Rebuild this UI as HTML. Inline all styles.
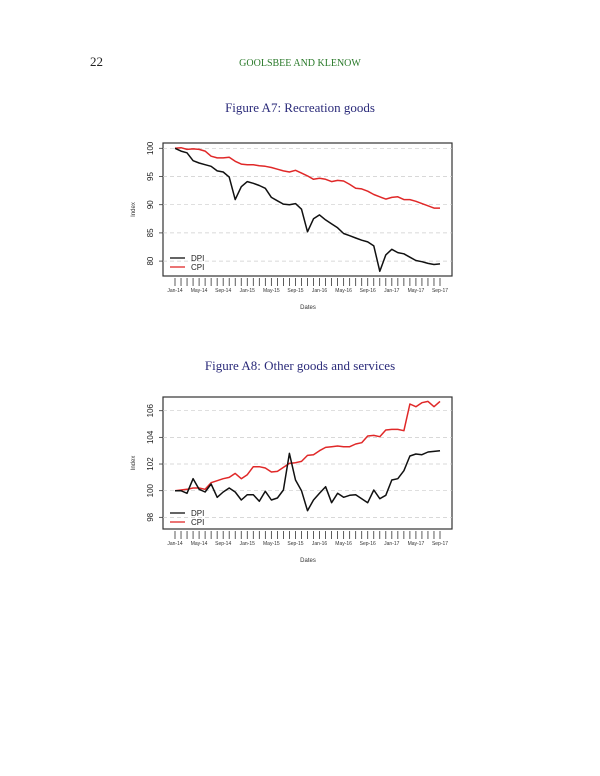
<!DOCTYPE html>
<html><head><meta charset="utf-8"><style>
html,body{margin:0;padding:0;background:#fff;width:600px;height:776px;overflow:hidden}
svg{display:block}
</style></head><body>
<svg id="s" width="600" height="776" xmlns="http://www.w3.org/2000/svg" font-family="Liberation Sans, sans-serif">
<text x="90" y="66" font-family="Liberation Serif, serif" font-size="13" fill="#222">22</text>
<text x="300" y="66" font-family="Liberation Serif, serif" font-size="10" fill="#2a7a2a" text-anchor="middle">GOOLSBEE AND KLENOW</text>
<text x="300" y="112" font-family="Liberation Serif, serif" font-size="13" fill="#2b2b7a" text-anchor="middle">Figure A7: Recreation goods</text>
<text x="300" y="370" font-family="Liberation Serif, serif" font-size="13" fill="#2b2b7a" text-anchor="middle">Figure A8: Other goods and services</text>
<g id="c1"></g><g id="c2"></g>
</svg>
<script>
var NS="http://www.w3.org/2000/svg";
function el(p,t,a,txt){var e=document.createElementNS(NS,t);for(var k in a)e.setAttribute(k,a[k]);if(txt!=null)e.textContent=txt;p.appendChild(e);return e;}
var labs=["Jan-14","May-14","Sep-14","Jan-15","May-15","Sep-15","Jan-16","May-16","Sep-16","Jan-17","May-17","Sep-17"];
function chart(g,o){
 var x0=175,dx=265/44;
 function Y(v){return o.yA+(o.vA-v)*o.k;}
 el(g,"rect",{x:163,y:o.top,width:289,height:o.bot-o.top,fill:"none",stroke:"#333","stroke-width":1.2});
 o.yt.forEach(function(v){var y=Y(v);
  el(g,"line",{x1:163,x2:452,y1:y,y2:y,stroke:"#ccc","stroke-dasharray":"4,3","stroke-width":0.7});
  el(g,"line",{x1:163,x2:159,y1:y,y2:y,stroke:"#333","stroke-width":0.8});
  el(g,"text",{x:0,y:0,"font-size":8,fill:"#222","text-anchor":"middle",transform:"translate(153,"+y+") rotate(-90)"},String(v));});
 el(g,"text",{x:0,y:0,"font-size":6,fill:"#333","text-anchor":"middle",transform:"translate(135,"+((o.top+o.bot)/2)+") rotate(-90)"},"Index");
 for(var i=0;i<45;i++){var x=x0+i*dx;el(g,"line",{x1:x,x2:x,y1:o.bot+2,y2:o.bot+10,stroke:"#333","stroke-width":0.8});
  if(i%4==0)el(g,"text",{x:x,y:o.bot+16,"font-size":5,fill:"#333","text-anchor":"middle"},labs[i/4]);}
 el(g,"text",{x:308,y:o.bot+33,"font-size":6,fill:"#333","text-anchor":"middle"},"Dates");
 [[o.cpi,"#e02828"],[o.dpi,"#111"]].forEach(function(s){
  el(g,"polyline",{points:s[0].map(function(v,i){return (x0+i*dx).toFixed(1)+","+Y(v).toFixed(1);}).join(" "),fill:"none",stroke:s[1],"stroke-width":1.5,"stroke-linejoin":"round"});});
 var ly=o.leg;
 el(g,"line",{x1:170,x2:185,y1:ly,y2:ly,stroke:"#111","stroke-width":1.3});
 el(g,"text",{x:191,y:ly+3,"font-size":8,fill:"#222"},"DPI");
 el(g,"line",{x1:170,x2:185,y1:ly+9,y2:ly+9,stroke:"#e02828","stroke-width":1.3});
 el(g,"text",{x:191,y:ly+12,"font-size":8,fill:"#222"},"CPI");
}
chart(document.getElementById("c1"),{top:143,bot:276,yA:148.3,vA:100,k:5.64,yt:[80,85,90,95,100],leg:258,
dpi:[100,99.5,99.2,97.8,97.4,97.1,96.8,96,95.8,94.9,90.9,93.2,94.1,93.8,93.4,92.9,91.3,90.7,90.1,90.0,90.2,89.2,85.2,87.5,88.2,87.3,86.6,85.9,84.9,84.5,84.1,83.7,83.4,82.7,78.2,81.1,82.1,81.5,81.3,80.7,80.1,79.9,79.6,79.4,79.5],
cpi:[100,100.1,99.8,99.9,99.8,99.5,98.6,98.3,98.3,98.4,97.7,97.2,97.1,97.1,96.9,96.8,96.6,96.3,96.0,95.8,96.1,95.6,95.1,94.5,94.7,94.5,94.1,94.3,94.2,93.6,92.9,92.8,92.4,91.8,91.4,91.0,91.3,91.4,90.9,90.9,90.6,90.2,89.8,89.4,89.4]});
chart(document.getElementById("c2"),{top:397,bot:529,yA:410.7,vA:106,k:13.33,yt:[98,100,102,104,106],leg:513,
dpi:[100,100,99.8,100.9,100.1,99.9,100.5,99.5,99.9,100.2,99.9,99.3,99.7,99.7,99.2,99.95,99.3,99.45,100.05,102.8,100.8,100,98.5,99.3,99.8,100.3,99.1,99.8,99.5,99.65,99.7,99.4,99.1,100.05,99.4,99.65,100.8,100.9,101.5,102.6,102.75,102.7,102.9,102.95,103.0],
cpi:[100,100.05,100.1,100.2,100.2,100.1,100.6,100.75,100.9,101.0,101.3,100.9,101.2,101.8,101.8,101.7,101.4,101.45,101.75,102.05,102.1,102.2,102.65,102.7,103.0,103.25,103.3,103.35,103.3,103.3,103.5,103.6,104.1,104.15,104.05,104.55,104.6,104.6,104.5,106.5,106.3,106.6,106.7,106.3,106.7]});
</script>
</body></html>
